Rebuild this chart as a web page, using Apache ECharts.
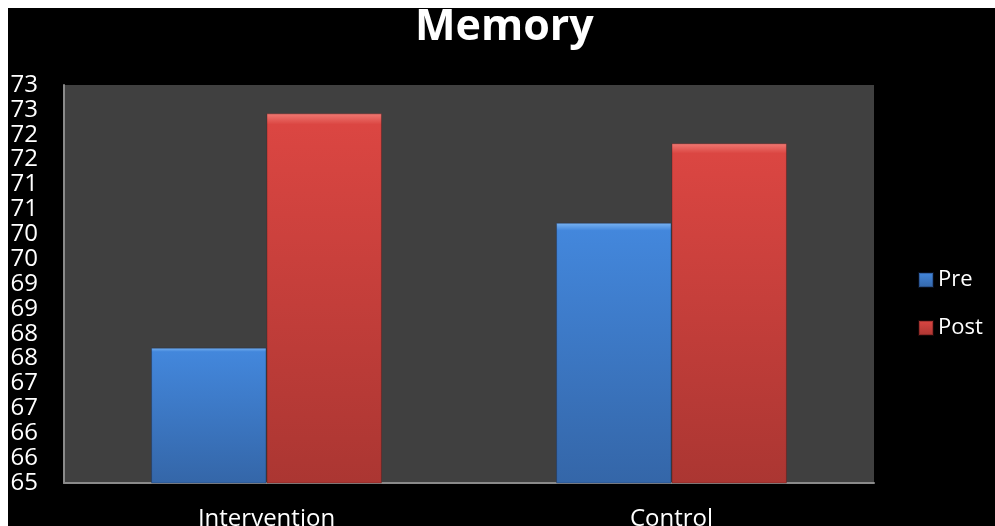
<!DOCTYPE html>
<html>
<head>
<meta charset="utf-8">
<title>Memory</title>
<script src="https://cdn.jsdelivr.net/npm/echarts@6/dist/echarts.min.js"></script>
<style>
  html, body { margin: 0; padding: 0; background: #000; }
  #chart { width: 995px; height: 526px; }
</style>
</head>
<body>
<div id="chart"></div>
<script>
// Memory scores before and after, per group
const groups = ['Intervention', 'Control'];
const preScores = [67.72, 70.23];
const postScores = [72.43, 71.83];
const seriesNames = ['Pre', 'Post'];
// Axis runs 65..73 in half steps; labels are shown rounded to whole numbers
const yTickValues = [65, 65.5, 66, 66.5, 67, 67.5, 68, 68.5, 69, 69.5, 70, 70.5, 71, 71.5, 72, 72.5, 73];
const yTickLabels = ['65', '66', '66', '67', '67', '68', '68', '69', '69', '70', '70', '71', '71', '72', '72', '73', '73'];

const FONT = '"Open Sans", Lato, sans-serif';

function barGradient(top, mid, bottom) {
  return new echarts.graphic.LinearGradient(0, 0, 0, 1, [
    { offset: 0, color: top },
    { offset: 0.03, color: mid },
    { offset: 1, color: bottom }
  ]);
}

const chart = echarts.init(document.getElementById('chart'), null, { renderer: 'canvas' });

chart.setOption({
  backgroundColor: '#000000',
  animation: false,
  title: {
    text: 'Memory',
    left: 410,
    top: 1,
    textStyle: { color: '#ffffff', fontSize: 43, fontWeight: 'bold', fontFamily: FONT }
  },
  graphic: [
    { type: 'rect', left: 0, top: 0, z: 100, shape: { width: 995, height: 8 }, style: { fill: '#ffffff' } },
    { type: 'rect', left: 0, top: 0, z: 100, shape: { width: 8, height: 526 }, style: { fill: '#ffffff' } }
  ],
  legend: {
    orient: 'vertical',
    left: 913,
    top: 264,
    itemWidth: 14,
    itemHeight: 14,
    itemGap: 26,
    icon: 'rect',
    textStyle: { color: '#ffffff', fontSize: 22, fontFamily: FONT, lineHeight: 22 },
    data: seriesNames
  },
  grid: {
    left: 64,
    right: 121,
    top: 85,
    bottom: 43,
    outerBoundsMode: 'none',
    containLabel: false,
    show: true,
    backgroundColor: '#404040',
    borderWidth: 0
  },
  xAxis: {
    type: 'category',
    data: groups,
    axisLine: { show: true, lineStyle: { color: '#8a8a8a', width: 2 } },
    axisTick: { show: false },
    axisLabel: { color: '#ffffff', fontSize: 24, fontFamily: FONT, margin: 24 }
  },
  yAxis: {
    type: 'value',
    min: 65,
    max: 73,
    interval: 0.5,
    splitLine: { show: false },
    axisLine: { show: true, lineStyle: { color: '#8a8a8a', width: 2 } },
    axisTick: { show: false },
    axisLabel: {
      color: '#ffffff',
      fontSize: 24,
      lineHeight: 20,
      fontFamily: FONT,
      margin: 26,
      showMinLabel: true,
      showMaxLabel: true,
      hideOverlap: false,
      formatter: function (v) {
        const i = yTickValues.findIndex(t => Math.abs(t - v) < 1e-6);
        return i >= 0 ? yTickLabels[i] : '';
      }
    }
  },
  series: [
    {
      name: seriesNames[0],
      type: 'bar',
      data: preScores,
      barGap: '0%',
      barCategoryGap: '43%',
      itemStyle: {
        color: barGradient('#7ab4f2', '#4387dc', '#3466a8'),
        borderColor: 'rgba(20,40,80,0.35)',
        borderWidth: 1
      }
    },
    {
      name: seriesNames[1],
      type: 'bar',
      data: postScores,
      barGap: '0%',
      barCategoryGap: '43%',
      itemStyle: {
        color: barGradient('#f07a74', '#db4642', '#ab3632'),
        borderColor: 'rgba(80,20,20,0.35)',
        borderWidth: 1
      }
    }
  ]
});
</script>
</body>
</html>
